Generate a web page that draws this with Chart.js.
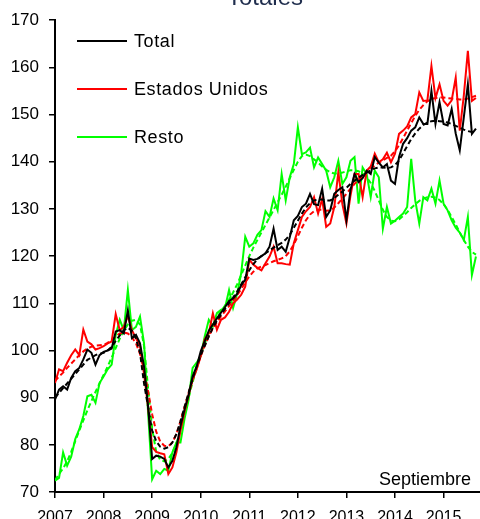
<!DOCTYPE html>
<html>
<head>
<meta charset="utf-8">
<script src="https://cdn.jsdelivr.net/npm/chart.js@4/dist/chart.umd.min.js"></script>
<style>
  body { margin: 0; background: #fff; }
  canvas { display: block; }
</style>
</head>
<body>
<canvas id="grafico" width="480" height="519"></canvas>
<script>
// meses desde enero 2007 hasta septiembre 2015
const years = ['2007', '2008', '2009', '2010', '2011', '2012', '2013', '2014', '2015'];
const yTicks = [70, 80, 90, 100, 110, 120, 130, 140, 150, 160, 170];

const total = [
  89.6, 91.7, 92.4, 91.7, 94.2, 95.6, 96.3, 98.1, 100.2, 99.5, 97.0, 99.0,
  99.7, 100.0, 100.4, 104.0, 104.3, 103.6, 108.5, 102.6, 103.3, 101.5, 96.6, 88.2,
  77.0, 77.7, 77.5, 77.0, 75.2, 76.6, 79.5, 84.0, 87.5, 90.5, 94.5, 96.6,
  99.8, 102.0, 104.2, 105.5, 106.8, 108.0, 109.2, 110.5, 111.0, 112.0, 113.8, 115.0,
  119.5, 119.2, 119.4, 120.0, 120.6, 122.0, 125.8, 121.3, 122.0, 120.9, 124.0, 127.6,
  128.5, 130.4, 131.1, 133.2, 131.0, 130.8, 134.3, 128.3, 129.7, 133.2, 134.0, 134.6,
  127.6, 134.0, 137.4, 135.7, 136.5, 138.1, 137.4, 141.0, 139.8, 138.8, 139.5, 136.0,
  135.3, 141.0, 143.8, 145.0, 146.6, 147.3, 149.4, 148.0, 148.0, 155.0, 148.0, 152.6,
  148.0, 147.7, 151.2, 146.0, 142.4, 149.4, 156.4, 145.9, 147.0
];
const totalTend = [
  90.0, 91.0, 92.0, 93.0, 94.0, 95.0, 96.0, 97.0, 98.0, 98.5, 99.0, 99.3,
  99.5, 100.0, 100.8, 102.0, 103.2, 104.3, 104.8, 104.2, 102.5, 99.5, 93.0, 88.0,
  83.0, 80.8, 79.6, 79.2, 79.5, 80.5, 82.3, 85.0, 88.0, 91.0, 94.0, 96.6,
  99.0, 101.0, 103.0, 104.8, 106.3, 107.6, 108.8, 110.0, 111.2, 112.5, 114.0, 115.5,
  117.0, 118.3, 119.3, 120.0, 120.6, 121.2, 121.8, 122.3, 122.8, 123.5, 124.5, 126.0,
  127.5, 129.0, 130.3, 131.2, 131.8, 132.0, 132.0, 131.8, 131.8, 132.3, 133.0, 133.7,
  134.5, 135.3, 136.0, 136.6, 137.2, 137.7, 138.2, 138.6, 138.8, 138.8, 138.7, 138.8,
  139.3, 140.3, 141.8, 143.3, 144.8, 146.0, 147.0, 147.8, 148.3, 148.6, 148.7, 148.6,
  148.5, 148.3, 148.0, 147.6, 147.2, 146.8, 146.5, 146.3, 146.3
];
const eeuu = [
  93.1, 96.0, 95.6, 97.4, 99.0, 100.2, 99.0, 104.4, 101.9, 101.3, 100.2, 100.5,
  100.9, 101.5, 101.9, 107.7, 104.3, 105.0, 107.3, 104.3, 102.6, 101.0, 95.0, 88.0,
  79.5, 78.5, 78.2, 78.0, 73.8, 75.2, 78.4, 83.0, 87.0, 90.5, 93.8, 96.0,
  98.8, 102.4, 103.7, 107.9, 104.4, 106.5, 107.0, 108.2, 110.0, 110.8, 111.8, 113.5,
  119.2, 118.2, 117.5, 117.0, 118.5, 119.9, 122.0, 118.5, 118.5, 118.3, 118.2, 122.7,
  125.5, 128.3, 129.5, 130.4, 132.5, 129.0, 132.1, 126.2, 126.9, 130.4, 137.8, 131.0,
  126.9, 132.8, 137.4, 137.4, 132.5, 138.1, 139.0, 141.7, 139.9, 140.5, 141.9, 139.9,
  141.7, 145.9, 146.6, 147.5, 149.4, 150.1, 154.7, 152.9, 153.0, 160.3, 153.5, 156.4,
  152.9, 151.9, 153.0, 157.8, 146.6, 154.0, 163.5, 152.9, 153.5
];
const eeuuTend = [
  93.5, 94.5, 95.3, 96.3, 97.2, 98.1, 99.0, 99.8, 100.4, 100.8, 101.0, 101.1,
  101.2, 101.6, 102.2, 103.0, 103.6, 103.8, 103.6, 102.8, 101.5, 99.3, 95.8, 91.3,
  86.5, 82.8, 80.7, 79.8, 79.7, 80.5, 82.3, 85.0, 88.0, 91.0, 93.8, 96.3,
  98.8, 101.0, 103.0, 104.7, 106.0, 107.2, 108.3, 109.4, 110.5, 111.7, 113.0, 114.4,
  115.7, 116.7, 117.4, 117.8, 118.1, 118.5, 118.9, 119.2, 119.5, 120.0, 121.0, 122.5,
  124.2, 126.0, 127.6, 128.8, 129.5, 129.8, 129.8, 129.6, 129.7, 130.3, 131.2, 132.2,
  133.2, 134.3, 135.3, 136.2, 137.0, 137.8, 138.5, 139.2, 139.8, 140.3, 140.8, 141.3,
  142.2, 143.5, 145.0, 146.6, 148.2, 149.7, 151.0, 152.0, 152.8, 153.3, 153.5, 153.6,
  153.6, 153.5, 153.4, 153.3, 153.2, 153.2, 153.4, 153.7, 154.0
];
const resto = [
  72.4, 73.0, 78.4, 75.6, 77.5, 81.2, 83.3, 86.1, 90.3, 90.6, 88.9, 93.1,
  94.5, 96.0, 97.0, 103.3, 106.5, 104.3, 112.8, 104.3, 105.0, 107.2, 101.5, 86.8,
  72.7, 74.5, 73.8, 74.9, 74.5, 78.4, 80.5, 80.5, 85.5, 89.5, 96.3, 97.4,
  98.8, 103.0, 106.5, 105.1, 107.9, 108.6, 109.0, 112.8, 109.0, 112.0, 116.4, 124.1,
  122.0, 122.7, 124.5, 125.5, 129.5, 128.3, 132.2, 129.7, 137.4, 131.8, 136.7, 139.5,
  147.3, 141.6, 142.0, 143.0, 138.8, 140.9, 139.5, 138.1, 134.6, 136.7, 140.2, 135.3,
  136.7, 140.2, 141.0, 131.1, 138.8, 137.4, 132.5, 138.1, 136.7, 125.8, 130.4, 126.9,
  127.5, 128.3, 129.0, 130.4, 140.6, 131.8, 126.9, 132.5, 131.8, 134.3, 131.1, 136.0,
  131.1, 129.7, 127.6, 126.0, 125.0, 123.4, 128.3, 116.0, 119.9
];
const restoTend = [
  72.5, 73.8, 75.0, 76.5, 78.5, 80.8, 83.0, 85.2, 87.3, 89.3, 91.2, 93.0,
  94.8, 96.6, 98.5, 100.5, 102.5, 104.2, 105.5, 106.3, 106.5, 105.5, 101.0, 92.0,
  83.5, 78.5, 76.8, 76.5, 77.0, 78.3, 80.3, 83.0, 86.5, 90.0, 93.3, 96.2,
  99.0, 101.5, 103.7, 105.5, 107.0, 108.3, 109.5, 110.8, 112.3, 114.0, 116.0, 118.0,
  120.0, 121.8, 123.4, 125.0, 126.6, 128.2, 129.8, 131.4, 133.0, 134.7, 136.5, 138.3,
  140.0, 141.2, 141.5, 141.2, 140.5, 139.8, 139.0, 138.3, 137.8, 137.5, 137.5, 137.7,
  138.0, 138.2, 138.2, 138.0, 137.5, 136.7, 135.5, 133.8, 131.8, 129.8, 128.3, 127.5,
  127.4, 127.8, 128.5, 129.3, 130.2, 131.0, 131.7, 132.2, 132.5, 132.6, 132.4, 131.9,
  131.0, 129.8, 128.3, 126.7, 125.0, 123.4, 122.0, 120.9, 120.3
];

const FUENTE = '"Liberation Sans", Arial, sans-serif';
Chart.defaults.font.family = FUENTE;
Chart.defaults.color = '#000';

function serie(valores) {
  return valores.map((v, i) => ({ x: i, y: v }));
}

function linea(label, valores, color, dash) {
  return {
    label: label,
    data: serie(valores),
    borderColor: color,
    borderWidth: 2,
    borderDash: dash ? [5, 3] : [],
    pointRadius: 0,
    tension: 0,
    fill: false
  };
}

// leyenda, título y nota dibujados a mano
const extras = {
  id: 'extras',
  afterDraw(chart) {
    const ctx = chart.ctx;
    ctx.save();
    // título (cortado arriba)
    ctx.fillStyle = '#1f2d4d';
    ctx.font = '24px ' + FUENTE;
    ctx.textAlign = 'center';
    ctx.textBaseline = 'alphabetic';
    ctx.fillText('Totales', 265, 5);

    // leyenda
    const items = [
      { t: 'Total', c: '#000000', y: 41 },
      { t: 'Estados Unidos', c: '#ff0000', y: 89 },
      { t: 'Resto', c: '#00ff00', y: 137 }
    ];
    ctx.font = '18px ' + FUENTE;
    ctx.textAlign = 'left';
    ctx.textBaseline = 'middle';
    ctx.letterSpacing = '0.6px';
    items.forEach(it => {
      ctx.strokeStyle = it.c;
      ctx.lineWidth = 2;
      ctx.beginPath();
      ctx.moveTo(77, it.y);
      ctx.lineTo(127, it.y);
      ctx.stroke();
      ctx.fillStyle = '#000';
      ctx.fillText(it.t, 134, it.y + 1);
    });

    ctx.letterSpacing = '0px';
    ctx.textAlign = 'right';
    ctx.textBaseline = 'alphabetic';
    ctx.fillText('Septiembre', 471, 485);
    ctx.restore();
  }
};

new Chart(document.getElementById('grafico'), {
  type: 'line',
  data: {
    datasets: [
      linea('Total', total, '#000000', false),
      linea('Total tendencia', totalTend, '#000000', true),
      linea('Estados Unidos', eeuu, '#ff0000', false),
      linea('Estados Unidos tendencia', eeuuTend, '#ff0000', true),
      linea('Resto', resto, '#00ff00', false),
      linea('Resto tendencia', restoTend, '#00ff00', true)
    ]
  },
  options: {
    responsive: false,
    animation: false,
    layout: { padding: { top: 19, right: 0, left: 0, bottom: 0 } },
    plugins: {
      legend: { display: false },
      tooltip: { enabled: false },
      title: { display: false }
    },
    scales: {
      x: {
        type: 'linear',
        min: 0,
        max: 105,
        afterFit: s => { s.height = 27; },
        afterBuildTicks: s => {
          s.ticks = years.map((y, i) => ({ value: i * 12 }));
        },
        ticks: {
          autoSkip: false,
          maxRotation: 0,
          padding: 10,
          font: { size: 16 },
          callback: v => years[v / 12]
        },
        grid: { drawOnChartArea: false, tickLength: 6, color: '#000', lineWidth: 1.5 },
        border: { color: '#000', width: 2 }
      },
      y: {
        min: 70,
        max: 170,
        afterFit: s => { s.width = 55; },
        afterBuildTicks: s => {
          s.ticks = yTicks.map(v => ({ value: v }));
        },
        ticks: {
          padding: 10,
          font: { size: 17 }
        },
        grid: { drawOnChartArea: false, tickLength: 6, color: '#000', lineWidth: 1.5 },
        border: { color: '#000', width: 2 }
      }
    }
  },
  plugins: [extras]
});
</script>
</body>
</html>
